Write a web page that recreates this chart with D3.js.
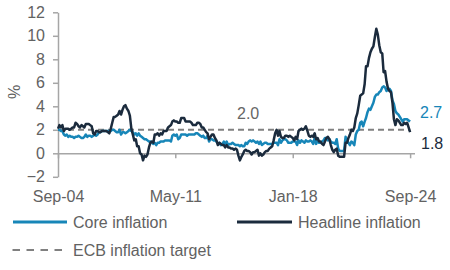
<!DOCTYPE html>
<html>
<head>
<meta charset="utf-8">
<script src="https://cdn.jsdelivr.net/npm/d3@7"></script>
<style>
  body { margin: 0; background: #fff; }
  text { font-family: "Liberation Sans", Arial, sans-serif; }
</style>
</head>
<body>
<div id="chart"></div>
<script>
// monthly, Sep-04 .. Sep-24 (y/y %)
var startMonth = '2004-09'

var headline = [
  2.1,2.4,2.2,2.4,
  1.9,2.1,2.1,2.1,2.0,2.1,2.2,2.2,2.6,2.5,2.3,2.2,
  2.4,2.3,2.2,2.5,2.5,2.5,2.4,2.3,1.7,1.6,1.9,1.9,
  1.8,1.8,1.9,1.9,1.9,1.9,1.8,1.7,2.1,2.6,3.1,3.1,
  3.2,3.3,3.6,3.3,3.7,4.0,4.1,3.8,3.6,3.2,2.1,1.6,
  1.1,1.2,0.6,0.6,0.0,-0.1,-0.6,-0.2,-0.3,-0.1,0.5,0.9,
  1.0,0.9,1.6,1.6,1.7,1.5,1.7,1.6,1.9,1.9,1.9,2.2,
  2.3,2.4,2.7,2.8,2.7,2.7,2.6,2.6,3.0,3.0,3.0,2.7,
  2.7,2.7,2.7,2.6,2.4,2.4,2.4,2.6,2.6,2.5,2.2,2.2,
  2.0,1.8,1.7,1.2,1.4,1.6,1.6,1.3,1.1,0.7,0.9,0.8,
  0.7,0.7,0.5,0.7,0.5,0.5,0.4,0.4,0.3,0.4,0.3,-0.2,
  -0.6,-0.3,-0.1,0.2,0.3,0.2,0.2,0.1,-0.1,0.1,0.1,0.2,
  0.3,-0.2,0.0,-0.2,-0.1,0.1,0.2,0.2,0.4,0.5,0.6,1.1,
  1.7,2.0,1.5,1.9,1.4,1.3,1.3,1.5,1.5,1.4,1.5,1.4,
  1.3,1.1,1.4,1.2,1.9,2.0,2.1,2.0,2.1,2.3,1.9,1.5,
  1.4,1.5,1.4,1.7,1.2,1.3,1.0,1.0,0.8,0.7,1.0,1.3,
  1.4,1.2,0.7,0.3,0.1,0.3,0.4,-0.2,-0.3,-0.3,-0.3,-0.3,
  0.9,0.9,1.3,1.6,2.0,1.9,2.2,3.0,3.4,4.1,4.9,5.0,
  5.1,5.9,7.4,7.4,8.1,8.6,8.9,9.1,9.9,10.6,10.1,9.2,
  8.6,8.5,6.9,7.0,6.1,5.5,5.3,5.2,4.3,2.9,2.4,2.9,
  2.8,2.6,2.4,2.4,2.6,2.5,2.6,2.2,1.8
]

var core = [
  2.0,2.0,1.9,1.9,
  1.6,1.5,1.6,1.4,1.5,1.4,1.4,1.3,1.4,1.4,1.5,1.4,
  1.3,1.3,1.4,1.6,1.4,1.5,1.5,1.4,1.5,1.6,1.5,1.6,
  1.8,1.8,1.9,1.9,1.9,1.9,1.9,1.9,1.9,2.0,2.0,1.9,
  1.8,1.8,2.0,1.6,1.8,1.8,1.7,1.8,1.9,2.0,1.9,1.8,
  1.6,1.7,1.5,1.7,1.5,1.4,1.3,1.2,1.2,1.1,1.0,1.0,
  0.9,0.8,0.9,0.7,0.9,0.9,1.0,1.0,1.0,1.1,1.1,1.1,
  1.1,1.0,1.5,1.6,1.5,1.6,1.2,1.3,1.6,1.6,1.6,1.6,
  1.5,1.6,1.6,1.6,1.6,1.6,1.7,1.7,1.6,1.5,1.4,1.5,
  1.3,1.3,1.5,1.0,1.2,1.2,1.1,1.1,1.0,0.8,0.9,0.7,
  0.8,1.0,0.7,1.0,0.7,0.8,0.8,0.9,0.8,0.7,0.7,0.7,
  0.6,0.7,0.6,0.6,0.9,0.8,1.0,1.1,1.0,1.1,1.0,0.9,
  1.0,0.8,1.0,0.7,0.8,0.9,0.9,0.8,0.8,0.8,0.8,0.9,
  0.9,0.9,0.7,1.2,0.9,1.1,1.2,1.2,1.1,0.9,0.9,0.9,
  1.0,1.0,1.0,0.7,1.1,0.9,1.1,1.0,0.9,1.1,1.0,1.0,
  1.1,1.0,0.8,1.3,0.8,1.1,0.9,0.9,1.0,1.1,1.3,1.3,
  1.1,1.2,1.0,0.9,0.9,0.8,1.2,0.4,0.2,0.2,0.2,0.2,
  1.4,1.1,0.9,0.7,1.0,0.9,0.7,1.6,1.9,2.0,2.6,2.7,
  2.3,2.7,3.0,3.5,3.8,3.7,4.0,4.3,4.8,5.0,5.0,5.2,
  5.3,5.6,5.7,5.6,5.3,5.5,5.5,5.3,4.5,4.2,3.6,3.4,
  3.3,3.1,2.9,2.7,2.9,2.9,2.9,2.8,2.7
]

var target = 2.0
var yTicks = [-2, 0, 2, 4, 6, 8, 10, 12]
var xTickLabels = ['2004-09', '2011-05', '2018-01', '2024-09']
var seriesNames = ['Core inflation', 'Headline inflation', 'ECB inflation target']

var coreCol = '#1786b8', headCol = '#1b2b3d', grey = '#808080', txt = '#626262'

var w = 450, h = 270
var svg = d3.select('#chart').append('svg').attr('width', w).attr('height', h)

var parse = d3.timeParse('%Y-%m')
var t0 = parse(startMonth)
var dates = headline.map(function(d, i){ return d3.timeMonth.offset(t0, i) })
var last = dates[dates.length - 1]

var x = d3.scaleTime().domain([t0, d3.timeMonth.offset(last, 3)]).range([58, 414.5])
var y = d3.scaleLinear().domain([-2, 12]).range([176.8, 12.3])

// y axis
var ya = svg.append('g').attr('transform', 'translate(58,0)')
  .call(d3.axisLeft(y).tickValues(yTicks).tickSize(5).tickSizeOuter(0).tickPadding(8))
ya.selectAll('path,line').attr('stroke', '#a6a6a6').attr('stroke-width', 1.5)
ya.selectAll('text').attr('fill', txt).style('font-size', '16px')

svg.append('text').attr('transform', 'translate(14,92) rotate(-90)')
  .attr('text-anchor', 'middle').attr('dy', '0.35em')
  .attr('fill', txt).style('font-size', '16px').text('%')

// x axis at zero
var xa = svg.append('g').attr('transform', 'translate(0,' + y(0) + ')')
  .call(d3.axisBottom(x).tickValues(xTickLabels.map(parse)).tickSize(5).tickSizeOuter(0)
    .tickPadding(32).tickFormat(d3.timeFormat('%b-%y')))
xa.selectAll('path,line').attr('stroke', '#a6a6a6').attr('stroke-width', 1.5)
xa.selectAll('text').attr('fill', txt).style('font-size', '16px')

// target line
svg.append('line')
  .attr('x1', x(t0)).attr('x2', x(last)).attr('y1', y(target)).attr('y2', y(target))
  .attr('stroke', grey).attr('stroke-width', 2).attr('stroke-dasharray', '6,4')

var line = d3.line().x(function(d){ return x(d[0]) }).y(function(d){ return y(d[1]) })

svg.append('path').datum(d3.zip(dates, core)).attr('d', line)
  .attr('fill', 'none').attr('stroke', coreCol).attr('stroke-width', 2.5).attr('stroke-linejoin', 'round')
svg.append('path').datum(d3.zip(dates, headline)).attr('d', line)
  .attr('fill', 'none').attr('stroke', headCol).attr('stroke-width', 2.5).attr('stroke-linejoin', 'round')

// value labels
svg.append('text').attr('x', 237).attr('y', y(target) - 11).attr('fill', '#666')
  .style('font-size', '16px').text(d3.format('.1f')(target))
svg.append('text').attr('x', 420).attr('y', y(core[core.length - 1]) - 4).attr('fill', coreCol)
  .style('font-size', '16px').text(d3.format('.1f')(core[core.length - 1]))
svg.append('text').attr('x', 421).attr('y', y(headline[headline.length - 1]) + 17).attr('fill', headCol)
  .style('font-size', '16px').text(d3.format('.1f')(headline[headline.length - 1]))

// legend
var leg = [
  { x: 13, y: 222, len: 54, col: coreCol, dash: null, w: 3 },
  { x: 237, y: 222, len: 55, col: headCol, dash: null, w: 3 },
  { x: 12.5, y: 250, len: 52, col: grey, dash: '7.5,6.5', w: 2 }
]
leg.forEach(function(l, i){
  svg.append('line').attr('x1', l.x).attr('x2', l.x + l.len).attr('y1', l.y).attr('y2', l.y)
    .attr('stroke', l.col).attr('stroke-width', l.w).attr('stroke-dasharray', l.dash)
  svg.append('text').attr('x', i == 2 ? 73 : l.x + l.len + 6).attr('y', l.y + 6)
    .attr('fill', txt).style('font-size', '16px').text(seriesNames[i])
})
</script>
</body>
</html>
